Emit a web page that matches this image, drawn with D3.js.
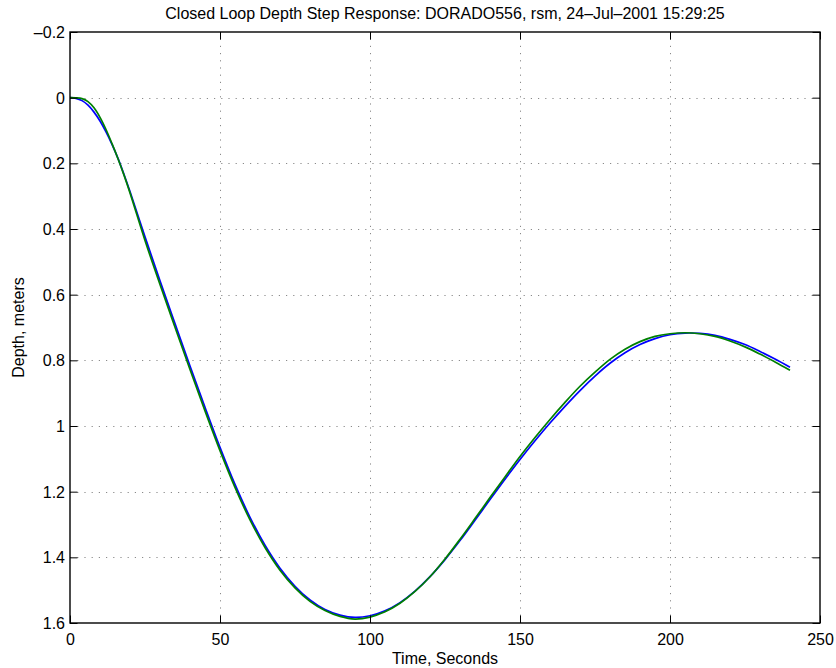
<!DOCTYPE html>
<html>
<head>
<meta charset="utf-8">
<script src="https://cdn.jsdelivr.net/npm/d3@7"></script>
<style>
  html, body { margin: 0; padding: 0; background: #fff; }
  svg { display: block; font-family: "Liberation Sans", Arial, Helvetica, sans-serif; }
</style>
</head>
<body>
<svg id="chart" width="836" height="668"></svg>
<script>
// Sample times (seconds)
const time = [0, 2, 4, 6, 8, 10, 12, 14, 16, 18, 20, 25, 30, 35, 40, 45, 50, 55, 60, 65,
  70, 75, 80, 85, 90, 95, 100, 105, 110, 115, 120, 125, 130, 135, 140, 145, 150, 155,
  160, 165, 170, 175, 180, 185, 190, 195, 200, 205, 210, 215, 220, 225, 230, 235, 240];

// Depth response, first run (blue)
const depthBlue = [0, 0.002, 0.009, 0.023, 0.044, 0.071, 0.104, 0.142, 0.185, 0.234, 0.286,
  0.424, 0.558, 0.688, 0.817, 0.943, 1.065, 1.178, 1.278, 1.363, 1.433, 1.488, 1.530, 1.559,
  1.576, 1.583, 1.578, 1.563, 1.538, 1.503, 1.459, 1.407, 1.349, 1.287, 1.224, 1.162, 1.102,
  1.045, 0.991, 0.940, 0.892, 0.848, 0.809, 0.777, 0.752, 0.734, 0.722, 0.717, 0.718,
  0.724, 0.736, 0.752, 0.773, 0.796, 0.821];

// Depth response, second run (green)
const depthGreen = [0, 0.0005, 0.003, 0.012, 0.031, 0.060, 0.097, 0.140, 0.186, 0.236, 0.290,
  0.435, 0.569, 0.699, 0.828, 0.954, 1.075, 1.187, 1.286, 1.370, 1.439, 1.493, 1.534, 1.562,
  1.580, 1.588, 1.582, 1.566, 1.540, 1.504, 1.459, 1.405, 1.345, 1.282, 1.218, 1.155, 1.093,
  1.035, 0.980, 0.928, 0.879, 0.836, 0.797, 0.766, 0.743, 0.727, 0.719, 0.716, 0.719,
  0.727, 0.741, 0.759, 0.781, 0.805, 0.830];

const xTicks = [0, 50, 100, 150, 200, 250];
const yTicks = [-0.2, 0, 0.2, 0.4, 0.6, 0.8, 1, 1.2, 1.4, 1.6];

const titleText = "Closed Loop Depth Step Response: DORADO556, rsm, 24\u2013Jul\u20132001 15:29:25";
const xLabel = "Time, Seconds";
const yLabel = "Depth, meters";

const svg = d3.select("#chart");
const W = 836, H = 668;
const m = { left: 70, right: 16, top: 32, bottom: 45 };
const x0 = m.left, x1 = W - m.right, y0 = m.top, y1 = H - m.bottom;

const x = d3.scaleLinear().domain([0, 250]).range([x0, x1]);
const y = d3.scaleLinear().domain([-0.2, 1.6]).range([y0, y1]);

svg.append("rect").attr("width", W).attr("height", H).attr("fill", "#fff");

// Dotted grid
const grid = svg.append("g").attr("stroke", "#8a8a8a").attr("stroke-width", 1)
  .attr("stroke-dasharray", "1.2,6");
grid.selectAll(".gx").data(xTicks.slice(1, -1)).join("line")
  .attr("x1", d => Math.round(x(d)) + 0.5).attr("x2", d => Math.round(x(d)) + 0.5)
  .attr("y1", y1).attr("y2", y0);
grid.selectAll(".gy").data(yTicks.slice(1, -1)).join("line")
  .attr("y1", d => Math.round(y(d)) + 0.5).attr("y2", d => Math.round(y(d)) + 0.5)
  .attr("x1", x0).attr("x2", x1);

// Curves
const line = d3.line().curve(d3.curveCatmullRom.alpha(0.5))
  .x(d => x(d[0])).y(d => y(d[1]));
const blueData = time.map((t, i) => [t, depthBlue[i]]);
const greenData = time.map((t, i) => [t, depthGreen[i]]);
svg.append("path").datum(blueData).attr("d", line)
  .attr("fill", "none").attr("stroke", "#0000ff").attr("stroke-width", 1.7);
svg.append("path").datum(greenData).attr("d", line)
  .attr("fill", "none").attr("stroke", "#008000").attr("stroke-width", 1.7);

// Axes with inward ticks, mirrored on top and right
const tick = 7.5;
const fmt = d => d < 0 ? "\u2013" + Math.abs(d) : String(d);

const axB = svg.append("g").attr("transform", `translate(0,${y1})`)
  .call(d3.axisBottom(x).tickValues(xTicks).tickSizeInner(-tick).tickSizeOuter(0)
    .tickPadding(10.5).tickFormat(fmt));
const axT = svg.append("g").attr("transform", `translate(0,${y0})`)
  .call(d3.axisTop(x).tickValues(xTicks).tickSizeInner(-tick).tickSizeOuter(0)
    .tickFormat(""));
const axL = svg.append("g").attr("transform", `translate(${x0},0)`)
  .call(d3.axisLeft(y).tickValues(yTicks).tickSizeInner(-tick).tickSizeOuter(0)
    .tickPadding(5).tickFormat(fmt));
const axR = svg.append("g").attr("transform", `translate(${x1},0)`)
  .call(d3.axisRight(y).tickValues(yTicks).tickSizeInner(-tick).tickSizeOuter(0)
    .tickFormat(""));

[axB, axT, axL, axR].forEach(g => {
  g.select(".domain").remove();
  g.selectAll(".tick line").attr("stroke", "#000").attr("stroke-width", 1);
  g.selectAll("text").attr("font-size", 16).attr("fill", "#000")
    .attr("font-family", "'Liberation Sans', Arial, Helvetica, sans-serif");
});
axL.selectAll("text").attr("dy", "0.35em");

// Box
svg.append("rect").attr("x", x0).attr("y", y0).attr("width", x1 - x0).attr("height", y1 - y0)
  .attr("fill", "none").attr("stroke", "#000").attr("stroke-width", 1.4);

// Labels
svg.append("text").attr("x", (x0 + x1) / 2).attr("y", 19).attr("text-anchor", "middle")
  .attr("font-size", 16).text(titleText);
svg.append("text").attr("x", (x0 + x1) / 2).attr("y", 664).attr("text-anchor", "middle")
  .attr("font-size", 16).text(xLabel);
svg.append("text").attr("transform", `translate(24,${(y0 + y1) / 2}) rotate(-90)`)
  .attr("text-anchor", "middle").attr("font-size", 16).text(yLabel);
</script>
</body>
</html>
